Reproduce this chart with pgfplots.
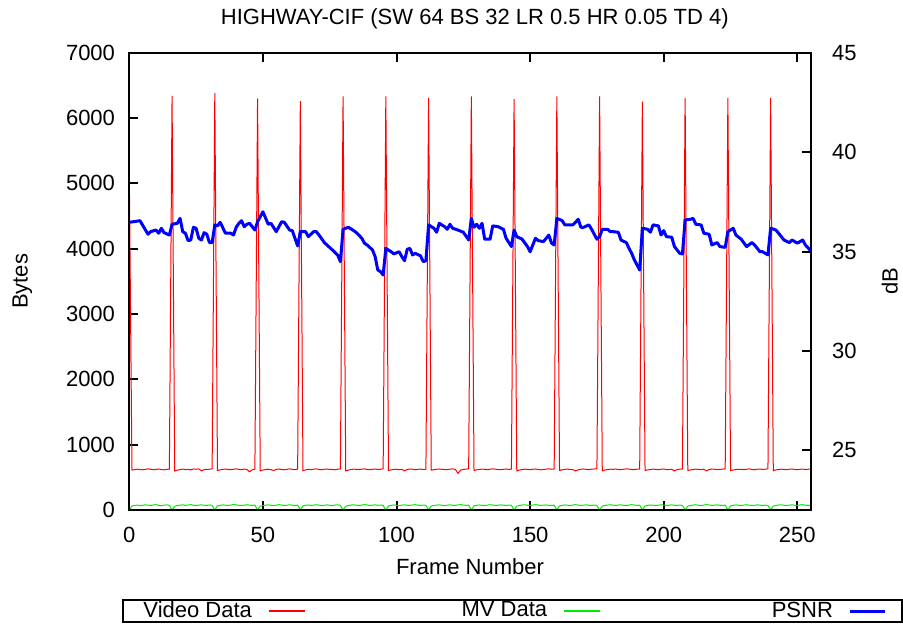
\documentclass[border=0pt]{standalone}
\usepackage{fontspec}
\setmainfont{Liberation Sans}
\usepackage{pgfplots}
\pgfplotsset{compat=1.18}
\definecolor{vred}{RGB}{255,0,0}
\definecolor{mvgreen}{RGB}{0,235,0}
\definecolor{pblue}{RGB}{0,0,255}
\begin{document}
\fontsize{11}{13}\selectfont
\begin{tikzpicture}
\useasboundingbox (-64.65pt,-59.5pt) rectangle (386.85pt,255pt);
\pgfplotsset{
  common/.style={
    scale only axis, width=340.7pt, height=228.65pt,
    at={(0,0)}, anchor=south west,
    xmin=0, xmax=255,
    tick align=inside,
    major tick length=4.5pt,
    axis line style={line width=1pt},
    every tick/.style={black, line width=1pt},
    /pgf/number format/assume math mode=true,
    /pgf/number format/1000 sep={},
    scaled ticks=false,
    clip=true,
  }
}
\begin{axis}[common,
  ymin=0, ymax=7000,
  ytick={0,1000,...,7000},
  xtick={0,50,...,250},
  xtick pos=both, ytick pos=left,
  yticklabel style={xshift=-3.3pt},
  xticklabel style={yshift=-4.6pt},
  title={HIGHWAY-CIF (SW 64 BS 32 LR 0.5 HR 0.05 TD 4)},
  title style={at={(axis description cs:0.507,1.0475)}, anchor=center},
  xlabel={Frame Number},
  xlabel style={at={(axis description cs:0.5,-0.1246)}, anchor=center},
  ylabel={Bytes},
  ylabel style={at={(axis description cs:-0.157,0.5)}, anchor=center},
]
\addplot[draw=vred, line width=0.5pt] coordinates {
(0,5150)
(1,612)(2,618)(3,625)(4,620)(5,615)(6,622)(7,630)(8,624)(9,617)(10,621)(11,628)(12,619)(13,615)(14,623)(15,627)
(16,6340)
(17,598)(18,610)(19,620)(20,626)(21,618)(22,622)(23,615)(24,628)(25,624)(26,630)(27,600)(28,618)(29,622)(30,625)(31,630)
(32,6380)
(33,605)(34,615)(35,622)(36,628)(37,620)(38,617)(39,624)(40,630)(41,622)(42,618)(43,626)(44,620)(45,585)(46,615)(47,625)
(48,6300)
(49,600)(50,612)(51,620)(52,625)(53,618)(54,605)(55,622)(56,628)(57,620)(58,615)(59,624)(60,630)(61,622)(62,618)(63,626)
(64,6260)
(65,602)(66,615)(67,622)(68,618)(69,625)(70,630)(71,620)(72,616)(73,624)(74,628)(75,620)(76,622)(77,615)(78,625)(79,628)
(80,6330)
(81,600)(82,612)(83,620)(84,626)(85,622)(86,618)(87,625)(88,630)(89,620)(90,617)(91,623)(92,628)(93,620)(94,624)(95,630)
(96,6330)
(97,605)(98,615)(99,620)(100,625)(101,618)(102,622)(103,600)(104,620)(105,628)(106,624)(107,618)(108,622)(109,626)(110,620)(111,625)
(112,6310)
(113,610)(114,618)(115,624)(116,628)(117,622)(118,620)(119,618)(120,625)(121,630)(122,622)(123,560)(124,610)(125,622)(126,626)(127,630)
(128,6330)
(129,605)(130,615)(131,620)(132,626)(133,622)(134,618)(135,624)(136,630)(137,625)(138,620)(139,617)(140,623)(141,628)(142,622)(143,626)
(144,6290)
(145,598)(146,612)(147,620)(148,625)(149,622)(150,618)(151,624)(152,628)(153,620)(154,615)(155,622)(156,626)(157,630)(158,624)(159,628)
(160,6330)
(161,605)(162,615)(163,622)(164,626)(165,620)(166,618)(167,598)(168,616)(169,624)(170,628)(171,622)(172,618)(173,625)(174,628)(175,630)
(176,6330)
(177,600)(178,612)(179,620)(180,625)(181,622)(182,628)(183,620)(184,618)(185,624)(186,630)(187,626)(188,620)(189,617)(190,625)(191,628)
(192,6250)
(193,605)(194,615)(195,620)(196,626)(197,622)(198,618)(199,624)(200,628)(201,620)(202,620)(203,622)(204,598)(205,618)(206,625)(207,628)
(208,6310)
(209,604)(210,614)(211,620)(212,626)(213,622)(214,618)(215,624)(216,600)(217,620)(218,628)(219,624)(220,618)(221,622)(222,626)(223,630)
(224,6310)
(225,605)(226,612)(227,620)(228,624)(229,622)(230,618)(231,625)(232,630)(233,620)(234,616)(235,624)(236,628)(237,622)(238,625)(239,630)
(240,6310)
(241,602)(242,614)(243,620)(244,625)(245,622)(246,618)(247,624)(248,628)(249,620)(250,617)(251,623)(252,626)(253,620)(254,624)(255,625)
};
\addplot[draw=mvgreen, line width=0.5pt] coordinates {
(0,0)
(1,62)(2,70)(3,75)(4,68)(5,72)(6,80)(7,74)(8,69)(9,77)(10,82)(11,71)(12,66)(13,74)(14,79)(15,70)
(16,0)
(17,58)(18,68)(19,74)(20,80)(21,71)(22,76)(23,83)(24,72)(25,68)(26,75)(27,79)(28,73)(29,70)(30,77)(31,72)
(32,0)
(33,64)(34,71)(35,78)(36,73)(37,69)(38,76)(39,84)(40,78)(41,72)(42,68)(43,74)(44,81)(45,75)(46,70)(47,76)
(48,0)
(49,60)(50,69)(51,74)(52,79)(53,72)(54,67)(55,75)(56,82)(57,76)(58,70)(59,73)(60,80)(61,74)(62,69)(63,75)
(64,0)
(65,63)(66,72)(67,77)(68,70)(69,74)(70,81)(71,75)(72,68)(73,73)(74,79)(75,72)(76,67)(77,76)(78,80)(79,71)
(80,0)
(81,59)(82,70)(83,76)(84,81)(85,73)(86,68)(87,75)(88,83)(89,77)(90,70)(91,74)(92,79)(93,72)(94,76)(95,70)
(96,0)
(97,62)(98,71)(99,78)(100,72)(101,68)(102,75)(103,80)(104,73)(105,69)(106,77)(107,82)(108,74)(109,70)(110,76)(111,72)
(112,0)
(113,61)(114,69)(115,75)(116,80)(117,72)(118,67)(119,74)(120,79)(121,73)(122,70)(123,78)(124,83)(125,75)(126,71)(127,74)
(128,0)
(129,64)(130,72)(131,77)(132,71)(133,68)(134,75)(135,81)(136,76)(137,70)(138,73)(139,79)(140,74)(141,69)(142,76)(143,72)
(144,0)
(145,60)(146,70)(147,76)(148,80)(149,73)(150,69)(151,75)(152,82)(153,77)(154,71)(155,74)(156,78)(157,72)(158,69)(159,75)
(160,0)
(161,63)(162,71)(163,78)(164,73)(165,68)(166,76)(167,82)(168,75)(169,70)(170,74)(171,80)(172,73)(173,68)(174,76)(175,71)
(176,0)
(177,61)(178,70)(179,75)(180,81)(181,74)(182,69)(183,76)(184,79)(185,72)(186,68)(187,75)(188,82)(189,77)(190,71)(191,74)
(192,0)
(193,62)(194,71)(195,77)(196,72)(197,67)(198,74)(199,80)(200,75)(201,70)(202,73)(203,79)(204,72)(205,68)(206,76)(207,71)
(208,0)
(209,60)(210,69)(211,76)(212,81)(213,73)(214,68)(215,75)(216,83)(217,77)(218,71)(219,74)(220,79)(221,72)(222,69)(223,75)
(224,0)
(225,63)(226,72)(227,78)(228,73)(229,69)(230,76)(231,81)(232,74)(233,70)(234,73)(235,79)(236,75)(237,68)(238,74)(239,71)
(240,0)
(241,61)(242,70)(243,76)(244,80)(245,72)(246,68)(247,75)(248,79)(249,73)(250,70)(251,77)(252,82)(253,74)(254,69)(255,76)
};
\end{axis}
\begin{axis}[common,
  ymin=22, ymax=45,
  ytick={25,30,...,45},
  xtick=\empty,
  ytick pos=right, yticklabel pos=right,
  yticklabel style={xshift=6.8pt},
  ylabel={dB},
  ylabel style={at={(axis description cs:1.116,0.5)}, anchor=center, rotate=0},
  legend plot pos=right,
  legend columns=3,
  legend style={at={(axis description cs:-0.01,-0.2209)}, anchor=west,
    line width=1pt, inner xsep=8pt, inner ysep=0pt,
    nodes={inner ysep=0.5pt},
    /tikz/every odd column/.style={column sep=6pt},
    /tikz/column 2/.style={column sep=76pt},
    /tikz/column 4/.style={column sep=83.5pt}},
]
\addlegendimage{legend image code/.code={\draw[draw=vred, line width=0.6pt] (0cm,0cm) -- (0.64cm,0cm);}}
\addlegendentry{Video Data}
\addlegendimage{legend image code/.code={\draw[draw=mvgreen, line width=0.6pt] (0cm,0cm) -- (0.64cm,0cm);}}
\addlegendentry{MV Data}
\addplot[draw=pblue, line width=1.5pt, line join=round] coordinates {
(0,36.47)(4,36.55)(7,35.87)(8,36.0)(10,36.08)(11,35.92)(12,36.17)(13,35.95)(15,35.83)
(16,36.37)(18,36.42)(19,36.67)(20,36.0)(21,35.92)(22,35.55)(23,35.58)(24,36.22)(25,36.17)(26,35.67)(27,35.58)(28,35.95)(29,35.87)(30,35.45)(31,35.45)
(32,36.34)(33,36.29)(34,36.47)(36,35.92)(38,35.92)(39,35.83)(40,36.22)(41,36.42)(42,36.55)(43,36.25)(44,36.37)(45,36.42)(47,36.08)
(48,36.5)(50,37.0)(52,36.37)(53,36.42)(55,36.0)(57,36.5)(58,36.47)(60,36.08)(61,36.05)(63,35.28)
(64,36.0)(66,36.0)(67,35.75)(69,36.0)(70,36.0)(71,35.83)(73,35.45)(75,35.2)(76,35.08)(78,34.82)(79,34.49)
(80,36.12)(82,36.22)(84,36.05)(85,35.95)(87,35.67)(88,35.42)(89,35.33)(91,35.08)(92,34.74)(93,34.07)(94,33.99)(95,33.82)
(96,35.16)(98,34.99)(99,34.88)(101,34.99)(102,34.74)(103,34.54)(104,35.11)(105,35.16)(106,34.83)(107,34.91)(109,34.78)(110,34.49)(111,34.54)
(112,36.34)(114,36.17)(115,35.97)(116,36.42)(118,36.25)(119,36.12)(120,36.37)(121,36.17)(123,36.08)(125,35.97)(127,35.58)
(128,36.67)(129,36.22)(130,36.37)(131,36.17)(132,36.42)(133,35.62)(135,35.62)(136,36.29)(138,36.25)(140,36.12)(141,35.67)(143,35.25)
(144,36.08)(145,35.75)(147,35.62)(149,35.25)(150,34.99)(152,35.67)(153,35.55)(155,35.50)(157,35.83)(158,35.42)(159,35.33)
(160,36.67)(162,36.55)(163,36.34)(166,36.34)(168,36.62)(169,36.22)(170,36.22)(172,36.34)(173,36.12)(175,35.62)
(176,35.75)(177,36.12)(179,36.12)(180,36.0)(181,36.0)(183,35.97)(184,35.58)(186,35.45)(187,35.16)(188,34.91)(189,34.58)(191,34.07)
(192,36.17)(194,36.12)(195,35.97)(196,36.34)(198,36.29)(199,35.83)(200,36.05)(201,35.75)(203,35.72)(204,35.25)(206,34.91)(207,34.88)
(208,36.59)(210,36.62)(211,36.67)(212,36.37)(214,36.34)(215,35.92)(217,35.87)(218,35.33)(220,35.45)(221,35.25)(223,35.21)
(224,36.0)(226,36.17)(227,35.83)(229,35.62)(231,35.25)(233,35.45)(234,35.33)(236,34.99)(237,34.99)(238,34.91)(239,34.83)
(240,36.17)(242,36.08)(244,35.75)(245,35.58)(247,35.45)(248,35.58)(250,35.42)(252,35.58)(253,35.33)(255,35.04)
};
\addlegendentry{PSNR}
\end{axis}
\end{tikzpicture}
\end{document}
